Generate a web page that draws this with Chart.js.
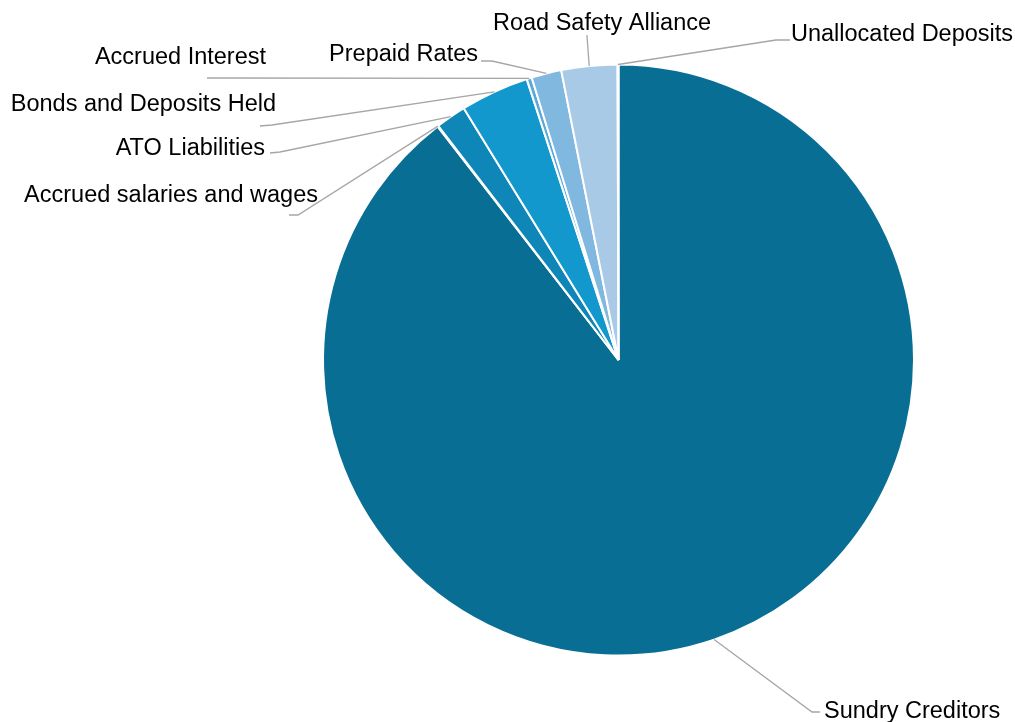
<!DOCTYPE html>
<html>
<head>
<meta charset="utf-8">
<title>Creditors</title>
<script src="https://cdn.jsdelivr.net/npm/chart.js@4.4.1/dist/chart.umd.min.js"></script>
<style>
  html, body { margin: 0; padding: 0; background: #fff; }
  #wrap { width: 1015px; height: 722px; position: relative; }
</style>
</head>
<body>
<div id="wrap"><canvas id="pieChart"></canvas></div>
<script>
// categories and share of total (%)
const categories = [
  'Sundry Creditors',
  'Accrued salaries and wages',
  'ATO Liabilities',
  'Bonds and Deposits Held',
  'Accrued Interest',
  'Prepaid Rates',
  'Road Safety Alliance',
  'Unallocated Deposits'
];
const shares = [89.6, 0.05, 1.67, 3.75, 0.28, 1.64, 3.06, 0.05];
const sliceColors = ['#086e94', '#0a7aa6', '#0e87b8', '#1398cd', '#5aa9da', '#80b8df', '#a8cae6', '#086e94'];

// where each label sits: elbow of the leader, end of the leader, text anchor
const labelSpots = [
  { elbow: [812, 712], end: [820, 712], text: [824, 712], align: 'left' },
  { elbow: [298, 215], end: [289, 215], text: [318, 196], align: 'right' },
  { elbow: [280, 152], end: [270, 153], text: [265, 149], align: 'right' },
  { elbow: [272, 125], end: [260, 126], text: [276, 105], align: 'right' },
  { elbow: [210, 78],  end: [207, 78],  text: [266, 58],  align: 'right' },
  { elbow: [492, 61],  end: [481, 61],  text: [478, 55],  align: 'right' },
  { elbow: [587, 36],  end: [587, 35],  text: [602, 24],  align: 'center' },
  { elbow: [776, 40],  end: [790, 40],  text: [791, 35],  align: 'left' }
];

// leader lines + category names outside the pie
const outerLabels = {
  id: 'outerLabels',
  afterDatasetsDraw(chart) {
    const ctx = chart.ctx;
    const arcs = chart.getDatasetMeta(0).data;
    ctx.save();
    arcs.forEach((arc, i) => {
      const p = arc.getProps(['x', 'y', 'startAngle', 'endAngle', 'outerRadius'], true);
      const mid = (p.startAngle + p.endAngle) / 2;
      const sx = p.x + Math.cos(mid) * p.outerRadius;
      const sy = p.y + Math.sin(mid) * p.outerRadius;
      const spot = labelSpots[i];
      ctx.strokeStyle = '#a6a6a6';
      ctx.lineWidth = 1.3;
      ctx.beginPath();
      ctx.moveTo(sx, sy);
      ctx.lineTo(spot.elbow[0], spot.elbow[1]);
      ctx.lineTo(spot.end[0], spot.end[1]);
      ctx.stroke();

      ctx.fillStyle = '#000';
      ctx.font = '23.5px "Liberation Sans", Arial, sans-serif';
      ctx.textAlign = spot.align;
      ctx.textBaseline = 'middle';
      ctx.fillText(categories[i], spot.text[0], spot.text[1]);
    });
    ctx.restore();
  }
};

const ctx = document.getElementById('pieChart').getContext('2d');
const pieChart = new Chart(ctx, {
  type: 'pie',
  data: {
    labels: categories,
    datasets: [{
      data: shares,
      backgroundColor: sliceColors,
      borderColor: '#ffffff',
      borderWidth: 2
    }]
  },
  options: {
    responsive: true,
    maintainAspectRatio: false,
    animation: false,
    layout: { padding: { left: 322, right: 100, top: 63, bottom: 65 } },
    plugins: {
      legend: { display: false },
      tooltip: { enabled: false }
    }
  },
  plugins: [outerLabels]
});
</script>
</body>
</html>
